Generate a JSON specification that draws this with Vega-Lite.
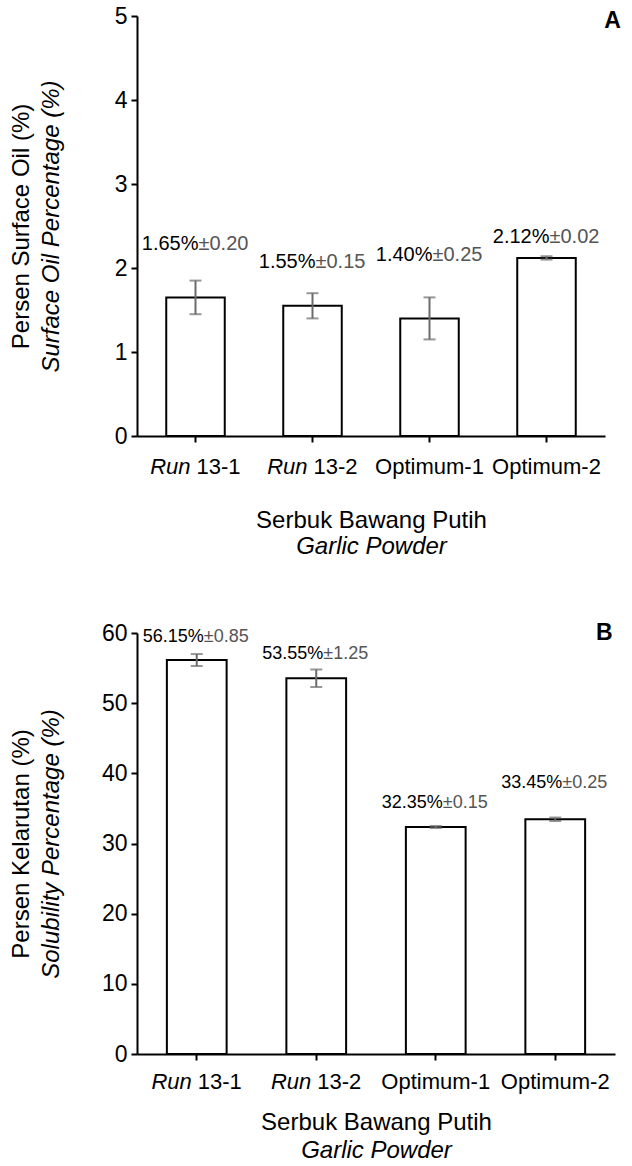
{
  "$schema": "https://vega.github.io/schema/vega-lite/v6.json",
  "padding": {"left": 9, "top": 5, "right": 0, "bottom": 0},
  "config": {
    "font": "Liberation Sans",
    "view": {"stroke": null},
    "concat": {"spacing": 64},
    "axis": {
      "domainColor": "black", "domainWidth": 2, "tickColor": "black", "tickWidth": 2, "tickSize": 6,
      "labelFontSize": 23, "labelColor": "black", "labelPadding": 4,
      "titleFontSize": 24, "titleFontWeight": "normal", "titleColor": "black", "grid": false
    },
    "text": {"font": "Liberation Sans"}
  },
  "vconcat": [
    {
      "width": 468, "height": 420,
      "data": {"values": [
        {"cat": "Run 13-1", "it": "Run", "num": "13-1", "value": 1.65, "err": 0.20, "lbl_v": "1.65%", "lbl_e": "±0.20", "lbl_y": 2.29},
        {"cat": "Run 13-2", "it": "Run", "num": "13-2", "value": 1.55, "err": 0.15, "lbl_v": "1.55%", "lbl_e": "±0.15", "lbl_y": 2.07},
        {"cat": "Optimum-1", "value": 1.40, "err": 0.25, "lbl_v": "1.40%", "lbl_e": "±0.25", "lbl_y": 2.15},
        {"cat": "Optimum-2", "value": 2.12, "err": 0.02, "lbl_v": "2.12%", "lbl_e": "±0.02", "lbl_y": 2.37}
      ]},
      "resolve": {"axis": {"x": "independent", "y": "independent"}},
      "layer": [
        {
          "mark": {"type": "bar", "fill": "white", "stroke": "black", "strokeWidth": 2},
          "encoding": {
            "x": {"field": "cat", "type": "nominal", "sort": null, "scale": {"paddingInner": 0.5, "paddingOuter": 0.25},
                  "axis": {"orient": "bottom", "title": "Serbuk Bawang Putih", "labels": false, "titlePadding": 65}},
            "y": {"field": "value", "type": "quantitative", "scale": {"domain": [0, 5], "nice": false},
                  "axis": {"orient": "left", "title": "Persen Surface Oil (%)", "values": [0, 1, 2, 3, 4, 5], "titlePadding": 81}}
          }
        },
        {
          "mark": {"type": "point", "opacity": 0},
          "encoding": {
            "x": {"field": "cat", "type": "nominal", "sort": null,
                  "axis": {"orient": "bottom", "title": "Garlic Powder", "titleFontStyle": "italic", "labels": false, "ticks": false, "domain": false, "titlePadding": 98}},
            "y": {"field": "value", "type": "quantitative",
                  "axis": {"orient": "left", "title": "Surface Oil Percentage (%)", "titleFontStyle": "italic", "labels": false, "ticks": false, "domain": false, "titlePadding": 74}}
          }
        },
        {
          "mark": {"type": "errorbar", "ticks": {"size": 12, "thickness": 2}, "color": "#6b6b6b", "thickness": 2},
          "encoding": {
            "x": {"field": "cat", "type": "nominal", "sort": null, "axis": null},
            "y": {"field": "value", "type": "quantitative", "axis": null},
            "yError": {"field": "err"}
          }
        },
        {
          "mark": {"type": "text", "align": "right", "baseline": "middle", "dx": 3, "fontSize": 20, "color": "black"},
          "encoding": {
            "x": {"field": "cat", "type": "nominal", "sort": null, "axis": null},
            "y": {"field": "lbl_y", "type": "quantitative", "axis": null},
            "text": {"field": "lbl_v"}
          }
        },
        {
          "mark": {"type": "text", "align": "left", "baseline": "middle", "dx": 3, "fontSize": 20, "color": "#555555"},
          "encoding": {
            "x": {"field": "cat", "type": "nominal", "sort": null, "axis": null},
            "y": {"field": "lbl_y", "type": "quantitative", "axis": null},
            "text": {"field": "lbl_e"}
          }
        },
        {
          "transform": [{"filter": "datum.it"}],
          "mark": {"type": "text", "align": "right", "baseline": "middle", "dx": -5, "dy": 31, "fontSize": 22, "fontStyle": "italic", "color": "black"},
          "encoding": {
            "x": {"field": "cat", "type": "nominal", "sort": null, "axis": null},
            "y": {"datum": 0, "axis": null},
            "text": {"field": "it"}
          }
        },
        {
          "transform": [{"filter": "datum.it"}],
          "mark": {"type": "text", "align": "left", "baseline": "middle", "dx": 1, "dy": 31, "fontSize": 22, "color": "black"},
          "encoding": {
            "x": {"field": "cat", "type": "nominal", "sort": null, "axis": null},
            "y": {"datum": 0, "axis": null},
            "text": {"field": "num"}
          }
        },
        {
          "transform": [{"filter": "!datum.it"}],
          "mark": {"type": "text", "align": "center", "baseline": "middle", "dy": 31, "fontSize": 22, "color": "black"},
          "encoding": {
            "x": {"field": "cat", "type": "nominal", "sort": null, "axis": null},
            "y": {"datum": 0, "axis": null},
            "text": {"field": "cat"}
          }
        },
        {
          "data": {"values": [{"panel": "A"}]},
          "mark": {"type": "text", "align": "center", "baseline": "middle", "dx": 66, "dy": 5, "fontSize": 23, "fontWeight": "bold", "color": "black"},
          "encoding": {
            "x": {"datum": "Optimum-2", "axis": null},
            "y": {"datum": 5, "axis": null},
            "text": {"field": "panel"}
          }
        }
      ]
    },
    {
      "width": 478, "height": 421,
      "data": {"values": [
        {"cat": "Run 13-1", "it": "Run", "num": "13-1", "value": 56.15, "err": 0.85, "lbl_v": "56.15%", "lbl_e": "±0.85", "lbl_y": 59.45},
        {"cat": "Run 13-2", "it": "Run", "num": "13-2", "value": 53.55, "err": 1.25, "lbl_v": "53.55%", "lbl_e": "±1.25", "lbl_y": 56.98},
        {"cat": "Optimum-1", "value": 32.35, "err": 0.15, "lbl_v": "32.35%", "lbl_e": "±0.15", "lbl_y": 35.75},
        {"cat": "Optimum-2", "value": 33.45, "err": 0.25, "lbl_v": "33.45%", "lbl_e": "±0.25", "lbl_y": 38.65}
      ]},
      "resolve": {"axis": {"x": "independent", "y": "independent"}},
      "layer": [
        {
          "mark": {"type": "bar", "fill": "white", "stroke": "black", "strokeWidth": 2},
          "encoding": {
            "x": {"field": "cat", "type": "nominal", "sort": null, "scale": {"paddingInner": 0.5, "paddingOuter": 0.25},
                  "axis": {"orient": "bottom", "title": "Serbuk Bawang Putih", "labels": false, "titlePadding": 49}},
            "y": {"field": "value", "type": "quantitative", "scale": {"domain": [0, 60], "nice": false},
                  "axis": {"orient": "left", "title": "Persen Kelarutan (%)", "values": [0, 10, 20, 30, 40, 50, 60], "titlePadding": 68}}
          }
        },
        {
          "mark": {"type": "point", "opacity": 0},
          "encoding": {
            "x": {"field": "cat", "type": "nominal", "sort": null,
                  "axis": {"orient": "bottom", "title": "Garlic Powder", "titleFontStyle": "italic", "labels": false, "ticks": false, "domain": false, "titlePadding": 84}},
            "y": {"field": "value", "type": "quantitative",
                  "axis": {"orient": "left", "title": "Solubility Percentage (%)", "titleFontStyle": "italic", "labels": false, "ticks": false, "domain": false, "titlePadding": 74}}
          }
        },
        {
          "mark": {"type": "errorbar", "ticks": {"size": 12, "thickness": 2}, "color": "#6b6b6b", "thickness": 2},
          "encoding": {
            "x": {"field": "cat", "type": "nominal", "sort": null, "axis": null},
            "y": {"field": "value", "type": "quantitative", "axis": null},
            "yError": {"field": "err"}
          }
        },
        {
          "mark": {"type": "text", "align": "right", "baseline": "middle", "dx": 7, "fontSize": 18, "color": "black"},
          "encoding": {
            "x": {"field": "cat", "type": "nominal", "sort": null, "axis": null},
            "y": {"field": "lbl_y", "type": "quantitative", "axis": null},
            "text": {"field": "lbl_v"}
          }
        },
        {
          "mark": {"type": "text", "align": "left", "baseline": "middle", "dx": 7, "fontSize": 18, "color": "#555555"},
          "encoding": {
            "x": {"field": "cat", "type": "nominal", "sort": null, "axis": null},
            "y": {"field": "lbl_y", "type": "quantitative", "axis": null},
            "text": {"field": "lbl_e"}
          }
        },
        {
          "transform": [{"filter": "datum.it"}],
          "mark": {"type": "text", "align": "right", "baseline": "middle", "dx": -5, "dy": 28, "fontSize": 22, "fontStyle": "italic", "color": "black"},
          "encoding": {
            "x": {"field": "cat", "type": "nominal", "sort": null, "axis": null},
            "y": {"datum": 0, "axis": null},
            "text": {"field": "it"}
          }
        },
        {
          "transform": [{"filter": "datum.it"}],
          "mark": {"type": "text", "align": "left", "baseline": "middle", "dx": 1, "dy": 28, "fontSize": 22, "color": "black"},
          "encoding": {
            "x": {"field": "cat", "type": "nominal", "sort": null, "axis": null},
            "y": {"datum": 0, "axis": null},
            "text": {"field": "num"}
          }
        },
        {
          "transform": [{"filter": "!datum.it"}],
          "mark": {"type": "text", "align": "center", "baseline": "middle", "dy": 28, "fontSize": 22, "color": "black"},
          "encoding": {
            "x": {"field": "cat", "type": "nominal", "sort": null, "axis": null},
            "y": {"datum": 0, "axis": null},
            "text": {"field": "cat"}
          }
        },
        {
          "data": {"values": [{"panel": "B"}]},
          "mark": {"type": "text", "align": "center", "baseline": "middle", "dx": 49, "dy": 0, "fontSize": 23, "fontWeight": "bold", "color": "black"},
          "encoding": {
            "x": {"datum": "Optimum-2", "axis": null},
            "y": {"datum": 60, "axis": null},
            "text": {"field": "panel"}
          }
        }
      ]
    }
  ]
}
